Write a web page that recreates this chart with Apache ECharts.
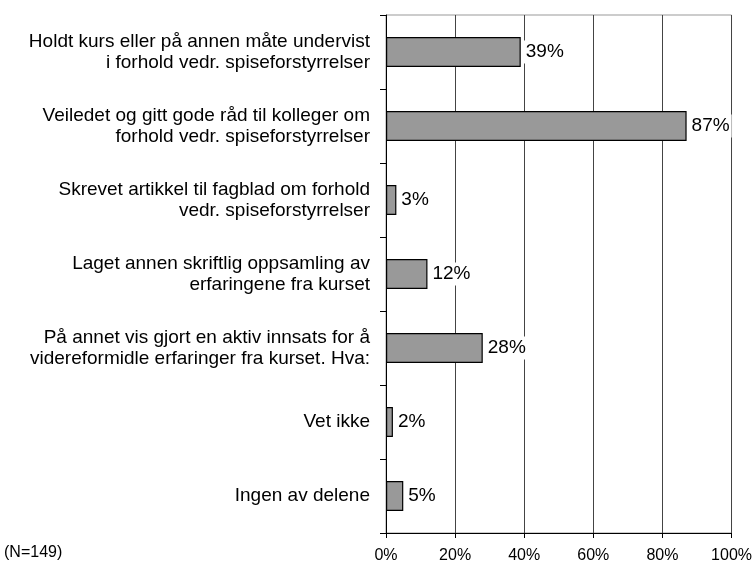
<!DOCTYPE html>
<html>
<head>
<meta charset="utf-8">
<script src="https://cdn.jsdelivr.net/npm/echarts@6/dist/echarts.min.js"></script>
<style>
  html, body { margin: 0; padding: 0; background: #fff; }
  #chart { width: 755px; height: 566px; }
</style>
</head>
<body>
<div id="chart"></div>
<script>
// svarkategorier, ovenfra og ned
const categories = [
  'Holdt kurs eller på annen måte undervist\ni forhold vedr. spiseforstyrrelser',
  'Veiledet og gitt gode råd til kolleger om\nforhold vedr. spiseforstyrrelser',
  'Skrevet artikkel til fagblad om forhold\nvedr. spiseforstyrrelser',
  'Laget annen skriftlig oppsamling av\nerfaringene fra kurset',
  'På annet vis gjort en aktiv innsats for å\nvidereformidle erfaringer fra kurset. Hva:',
  'Vet ikke',
  'Ingen av delene'
];
const percents = [39, 87, 3, 12, 28, 2, 5];
const xTicks = [0, 20, 40, 60, 80, 100];
const note = '(N=149)';

const chart = echarts.init(document.getElementById('chart'));

const font = 'Arial, "Liberation Sans", sans-serif';

chart.setOption({
  animation: false,
  grid: {
    left: 386, right: 21, top: 15, bottom: 33,
    show: true,
    borderColor: '#999',
    borderWidth: 1
  },
  xAxis: {
    type: 'value',
    min: xTicks[0],
    max: xTicks[xTicks.length - 1],
    interval: 20,
    axisLine: { show: true, lineStyle: { color: '#000', width: 1 } },
    axisTick: { show: true, length: 5, lineStyle: { color: '#000' } },
    axisLabel: {
      formatter: v => v + '%',
      color: '#000',
      fontFamily: font,
      fontSize: 16,
      margin: 15
    },
    splitLine: { show: true, lineStyle: { color: '#444', width: 1 } }
  },
  yAxis: {
    type: 'category',
    inverse: true,
    data: categories,
    axisLine: { show: true, lineStyle: { color: '#000', width: 1 } },
    axisTick: { show: true, length: 6, lineStyle: { color: '#000' } },
    axisLabel: {
      color: '#000',
      fontFamily: font,
      fontSize: 19,
      lineHeight: 21,
      align: 'right',
      margin: 16
    }
  },
  series: [{
    type: 'bar',
    data: percents,
    barWidth: 30,
    itemStyle: {
      color: '#999999',
      borderColor: '#000',
      borderWidth: 1.2
    },
    label: {
      show: true,
      position: 'right',
      distance: 3,
      formatter: p => p.value + '%',
      color: '#000',
      fontFamily: font,
      fontSize: 19,
      backgroundColor: '#fff',
      padding: [2, 2, 2, 2]
    }
  }],
  graphic: [{
    type: 'text',
    left: 4,
    top: 545,
    style: {
      text: note,
      fill: '#000',
      font: '16px ' + font
    }
  }]
});
</script>
</body>
</html>
